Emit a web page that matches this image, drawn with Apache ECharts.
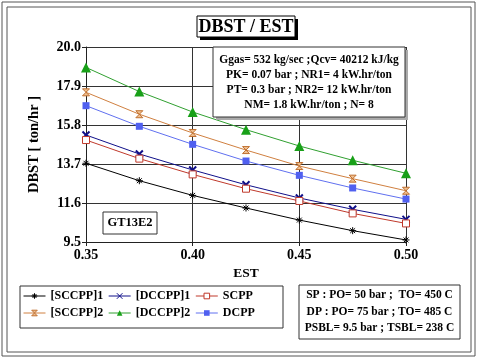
<!DOCTYPE html>
<html><head><meta charset="utf-8">
<script src="https://cdn.jsdelivr.net/npm/echarts@6/dist/echarts.min.js"></script>
<style>html,body{margin:0;padding:0;background:#fff}#c{width:478px;height:359px}</style>
</head><body><div id="c"></div>
<script>
var est = [0.35, 0.375, 0.40, 0.425, 0.45, 0.475, 0.50];
var sccpp1 = [13.74, 12.80, 12.01, 11.33, 10.68, 10.11, 9.61];
var dccpp1 = [15.26, 14.24, 13.38, 12.58, 11.87, 11.26, 10.72];
var scpp   = [14.99, 13.99, 13.14, 12.37, 11.71, 11.04, 10.50];
var sccpp2 = [17.56, 16.38, 15.37, 14.45, 13.59, 12.91, 12.26];
var dccpp2 = [18.90, 17.60, 16.50, 15.55, 14.67, 13.90, 13.20];
var dcpp   = [16.84, 15.73, 14.76, 13.86, 13.09, 12.41, 11.81];
var yTicks = [9.5, 11.6, 13.7, 15.8, 17.9, 20.0];
var xTicks = [0.35, 0.40, 0.45, 0.50];
var infoLines = ['Ggas= 532 kg/sec ;Qcv= 40212 kJ/kg','PK= 0.07 bar ; NR1= 4 kW.hr/ton','PT= 0.3 bar ; NR2= 12 kW.hr/ton','NM= 1.8 kW.hr/ton ; N= 8'];
var condLines = ['SP : PO= 50 bar ;  TO= 450 C','DP : PO= 75 bar ; TO= 485 C','PSBL= 9.5 bar ; TSBL= 238 C'];

var F = '"Liberation Serif", "DejaVu Serif", serif';
function pts(arr){ return est.map(function(x,i){ return [x, arr[i]]; }); }
var symAst = 'path://M5,0L5,10M0,5L10,5M1.5,1.5L8.5,8.5M8.5,1.5L1.5,8.5';
var symX = 'path://M0,0L10,10M10,0L0,10';
var symHour = 'path://M0,0L10,0L0,10L10,10Z';
function ser(name, arr, color, lineColor, symbol, size, style){
  return {name:name, type:'line', data:pts(arr), symbol:symbol, symbolSize:size,
    lineStyle:{color:lineColor, width:1}, itemStyle:Object.assign({color:color}, style||{}),
    emphasis:{disabled:true}, z:3};
}
var legText = {fontFamily:F, fontWeight:'bold', fontSize:12, color:'#000'};
var chart = echarts.init(document.getElementById('c'));
chart.setOption({
  animation:false,
  backgroundColor:'#ffffff',
  grid:{left:86, right:72, top:47, bottom:117},
  xAxis:{type:'value', min:0.35, max:0.50,
    axisLine:{show:true, lineStyle:{color:'#222', width:1}},
    axisTick:{show:true, customValues:xTicks, length:4, lineStyle:{color:'#222'}},
    axisLabel:{customValues:xTicks, formatter:function(v){return v.toFixed(2);}, fontFamily:F, fontWeight:'bold', fontSize:14, color:'#000', margin:6},
    splitLine:{show:true, lineStyle:{color:'#333', width:1}},
    name:'EST', nameLocation:'middle', nameGap:25, nameTextStyle:{fontFamily:F, fontWeight:'bold', fontSize:13.5, color:'#000'}},
  yAxis:{type:'value', min:9.5, max:20.0,
    axisLine:{show:true, lineStyle:{color:'#222', width:1}},
    axisTick:{show:true, customValues:yTicks, length:4, lineStyle:{color:'#222'}},
    axisLabel:{customValues:yTicks, formatter:function(v){return v.toFixed(1);}, fontFamily:F, fontWeight:'bold', fontSize:14, color:'#000', margin:5},
    splitLine:{show:true, lineStyle:{color:'#333', width:1}},
    name:'DBST [ ton/hr ]', nameLocation:'middle', nameGap:44, nameTextStyle:{fontFamily:F, fontWeight:'bold', fontSize:14.5, color:'#000'}},
  legend:[
    {left:23, top:290, itemWidth:22, itemHeight:7, itemGap:5, padding:0, lineStyle:{width:1}, itemStyle:{borderWidth:1},
      textStyle:legText, data:['[SCCPP]1','[DCCPP]1','SCPP']},
    {left:23, top:307, itemWidth:22, itemHeight:7, itemGap:5, padding:0, lineStyle:{width:1}, itemStyle:{borderWidth:1},
      textStyle:legText, data:['[SCCPP]2','[DCCPP]2','DCPP']}
  ],
  series:[
    ser('[SCCPP]1', sccpp1, '#000', '#000', symAst, 7, {borderColor:'#000', borderWidth:1}),
    ser('[DCCPP]1', dccpp1, '#10108a', '#10108a', symX, 7, {borderColor:'#10108a', borderWidth:2}),
    ser('SCPP', scpp, '#ffffff', '#c0392b', 'rect', 7, {borderColor:'#c0392b', borderWidth:1}),
    ser('[SCCPP]2', sccpp2, '#f0c090', '#d08040', symHour, 7, {borderColor:'#c07030', borderWidth:1}),
    ser('[DCCPP]2', dccpp2, '#18a018', '#30a030', 'triangle', 10, {}),
    ser('DCPP', dcpp, '#5060f0', '#6070f0', 'rect', 7, {})
  ],
  graphic:[
    {type:'rect', shape:{x:2, y:2, width:473, height:354}, style:{fill:null, stroke:'#555', lineWidth:1}, silent:true},
    {type:'rect', shape:{x:7, y:7, width:464, height:345}, style:{fill:null, stroke:'#555', lineWidth:1}, silent:true},
    {type:'rect', shape:{x:200, y:19, width:98, height:21}, style:{fill:'#000'}, z:10},
    {type:'rect', shape:{x:197, y:16, width:98, height:21}, style:{fill:'#fff', stroke:'#000', lineWidth:1}, z:11},
    {type:'text', x:246, y:27, style:{text:'DBST / EST', font:'bold 18px '+F, fill:'#000', align:'center', verticalAlign:'middle'}, z:12},
    {type:'rect', shape:{x:216, y:50, width:192, height:70}, style:{fill:'#aaa'}, z:10},
    {type:'rect', shape:{x:213, y:47, width:192, height:70}, style:{fill:'#fff', stroke:'#333', lineWidth:1}, z:11},
    {type:'text', x:309, y:60, style:{text:infoLines[0], font:'bold 11.5px '+F, fill:'#000', align:'center', verticalAlign:'middle'}, z:12},
    {type:'text', x:309, y:75, style:{text:infoLines[1], font:'bold 11.5px '+F, fill:'#000', align:'center', verticalAlign:'middle'}, z:12},
    {type:'text', x:309, y:90, style:{text:infoLines[2], font:'bold 11.5px '+F, fill:'#000', align:'center', verticalAlign:'middle'}, z:12},
    {type:'text', x:309, y:105, style:{text:infoLines[3], font:'bold 11.5px '+F, fill:'#000', align:'center', verticalAlign:'middle'}, z:12},
    {type:'rect', shape:{x:103, y:212, width:54, height:22}, style:{fill:'#fff', stroke:'#333', lineWidth:1}, z:11},
    {type:'text', x:130, y:223, style:{text:'GT13E2', font:'bold 12.5px '+F, fill:'#000', align:'center', verticalAlign:'middle'}, z:12},
    {type:'rect', shape:{x:20, y:286, width:263, height:42}, style:{fill:null, stroke:'#333', lineWidth:1}, z:1},
    {type:'rect', shape:{x:299, y:285, width:161, height:54}, style:{fill:'#fff', stroke:'#333', lineWidth:1}, z:11},
    {type:'text', x:379.5, y:295, style:{text:condLines[0], font:'bold 11.5px '+F, fill:'#000', align:'center', verticalAlign:'middle'}, z:12},
    {type:'text', x:379.5, y:312, style:{text:condLines[1], font:'bold 11.5px '+F, fill:'#000', align:'center', verticalAlign:'middle'}, z:12},
    {type:'text', x:379.5, y:328, style:{text:condLines[2], font:'bold 11.5px '+F, fill:'#000', align:'center', verticalAlign:'middle'}, z:12}
  ]
});
</script></body></html>
